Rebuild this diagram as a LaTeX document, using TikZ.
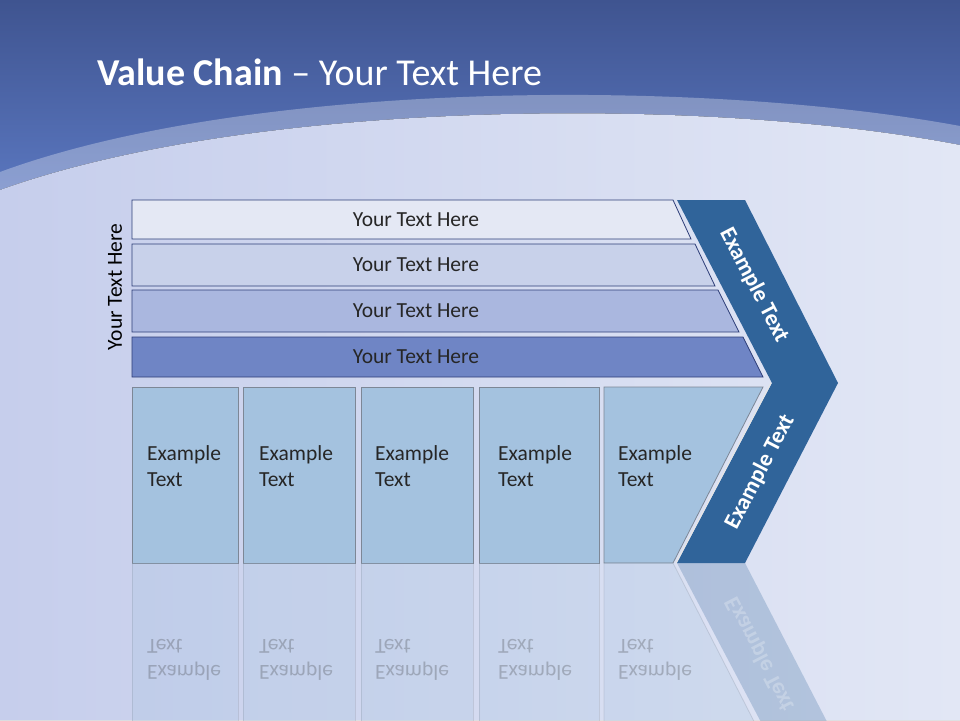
\documentclass[tikz,border=0pt]{standalone}
\usepackage{fontspec}
\setmainfont{Carlito}
\usetikzlibrary{positioning}

\definecolor{slidetop}{HTML}{3F5490}
\definecolor{slidemid}{HTML}{5B78C1}
\definecolor{slideleft}{HTML}{C6CEEC}
\definecolor{slideright}{HTML}{E2E7F5}
\definecolor{barone}{HTML}{E4E8F4}
\definecolor{bartwo}{HTML}{C8D1EA}
\definecolor{barthree}{HTML}{AAB7DF}
\definecolor{barfour}{HTML}{6F85C5}
\definecolor{barline}{HTML}{2E3E78}
\definecolor{cellfill}{HTML}{A4C2DF}
\definecolor{cellline}{HTML}{7D8796}
\definecolor{chevron}{HTML}{30649A}

\begin{document}
\begin{tikzpicture}
    [x=1pt,y=-1pt,every node/.style={font=\fontsize{21.5}{26}\selectfont, text=black!85, inner sep=0pt},
     bar/.style={draw=barline, line width=0.8pt},
     cell/.style={draw=cellline, fill=cellfill, line width=0.8pt},
     celltext/.style={anchor=north west, align=left},
     chevtext/.style={text=white, font=\fontsize{23}{28}\selectfont\bfseries}]
    \useasboundingbox (0,0) rectangle (960,720);
    \clip (0,0) rectangle (960,720);

    % background
    \fill[top color=slidetop, bottom color=slidemid] (0,0) rectangle (960,200);
    \fill[left color=slideleft, right color=slideright]
        (0,190) .. controls (250,100) and (700,95) .. (960,145) -- (960,720) -- (0,720) -- cycle;
    \fill[white, opacity=0.3]
        (0,172) .. controls (250,80) and (700,78) .. (960,126) -- (960,145)
        .. controls (700,95) and (250,100) .. (0,190) -- cycle;

    \node[anchor=base west, text=white, font=\fontsize{38}{44}\selectfont] (title) at (97,85)
        {\textbf{Value Chain} – Your Text Here};

    % rows
    \foreach \i/\yt/\yb/\xt/\xb/\col in {1/200/239/673/691/barone, 2/244/286/695/715/bartwo,
                                         3/290/332/718/739/barthree, 4/337/377/743/763/barfour}{
        \draw[bar, fill=\col] (132,\yt) -- (\xt,\yt) -- (\xb,\yb) -- (132,\yb) -- cycle;
        \node (row\i) at (416,{(\yt+\yb)/2}) {Your Text Here};
    }
    \node[rotate=90, text=black] (side) at (115,287) {Your Text Here};

    % chevron
    \fill[chevron] (677,200) -- (745,200) -- (838,383) -- (745,563) -- (677,563) -- (772,383) -- cycle;
    \draw[white!80!gray, line width=1.2pt] (676,563) -- (771,383);
    \node[chevtext, rotate=-62.6] (chevtop) at (754,285) {Example Text};
    \node[chevtext, rotate=62.6] (chevbot) at (760,472) {Example Text};

    % cells
    \foreach \i/\xl/\xr/\xt in {1/132/238/147, 2/243/355/259, 3/361/473/375, 4/479/599/498}{
        \draw[cell] (\xl,387) rectangle (\xr,563);
        \node[celltext] (cell\i) at (\xt,445) {Example\\Text};
    }
    \draw[cell] (604,387) -- (763,387) -- (673,563) -- (604,563) -- cycle;
    \node[celltext] (cell5) at (618,445) {Example\\Text};

    % reflection
    \begin{scope}[shift={(0,1126)}, yscale=-1, opacity=0.25, transform shape]
        \foreach \xl/\xr/\xt in {132/238/147, 243/355/259, 361/473/375, 479/599/498}{
            \draw[cell] (\xl,387) rectangle (\xr,563);
            \node[celltext] at (\xt,445) {Example\\Text};
        }
        \draw[cell] (604,387) -- (763,387) -- (673,563) -- (604,563) -- cycle;
        \node[celltext] at (618,445) {Example\\Text};
        \fill[chevron] (677,563) -- (745,563) -- (838,383) -- (772,383) -- cycle;
        \node[chevtext, rotate=62.6] at (760,472) {Example Text};
    \end{scope}
\end{tikzpicture}
\end{document}
